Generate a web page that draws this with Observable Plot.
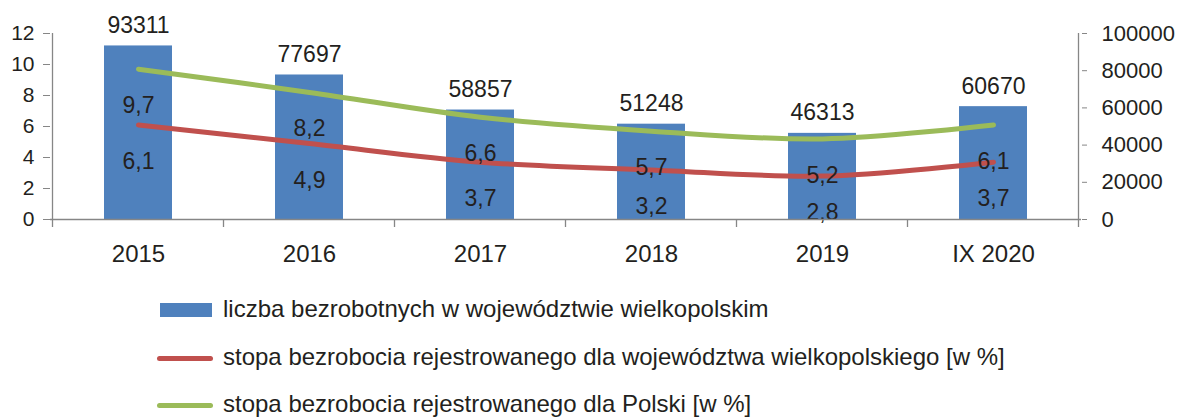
<!DOCTYPE html>
<html>
<head>
<meta charset="utf-8">
<script src="https://cdn.jsdelivr.net/npm/d3@7"></script>
<script src="https://cdn.jsdelivr.net/npm/@observablehq/plot@0.6"></script>
<style>
  html, body { margin: 0; padding: 0; background: #fff; }
  body { width: 1182px; height: 417px; position: relative; overflow: hidden; font-family: "Liberation Sans", Arial, sans-serif; color: #231f20; }
  #chart { position: absolute; left: 0; top: 0; }
  .legend { position: absolute; left: 157px; top: 0; font-size: 24px; line-height: 24px; }
  .item { position: absolute; left: 0; white-space: nowrap; height: 24px; }
  .sw { position: absolute; }
  .lbl { position: absolute; left: 66px; top: 0; }
</style>
</head>
<body>
<div id="chart"></div>
<div class="legend" id="legend"></div>
<script>
const years = ["2015", "2016", "2017", "2018", "2019", "IX 2020"];
const unemployedCount = [93311, 77697, 58857, 51248, 46313, 60670];
const rateWielkopolska = [6.1, 4.9, 3.7, 3.2, 2.8, 3.7];
const ratePoland = [9.7, 8.2, 6.6, 5.7, 5.2, 6.1];
const leftTicks = [0, 2, 4, 6, 8, 10, 12];
const rightTicks = [0, 20000, 40000, 60000, 80000, 100000];
const seriesNames = [
  "liczba bezrobotnych w województwie wielkopolskim",
  "stopa bezrobocia rejestrowanego dla województwa wielkopolskiego [w %]",
  "stopa bezrobocia rejestrowanego dla Polski [w %]"
];
const colors = ["#4f81bd", "#c0504d", "#9bbb59"];

const leftMax = 12, rightMax = 100000;
const toLeft = v => v * leftMax / rightMax;

const bars = years.map((y, i) => ({year: y, count: unemployedCount[i]}));
const red = years.map((y, i) => ({year: y, v: rateWielkopolska[i]}));
const green = years.map((y, i) => ({year: y, v: ratePoland[i]}));
const fmt = v => String(v).replace(".", ",");
const textColor = "#231f20";
const axisColor = "#868686";

const plot = Plot.plot({
  width: 1182,
  height: 280,
  marginLeft: 50,
  marginRight: 101,
  marginTop: 33,
  marginBottom: 61,
  style: {fontFamily: "Liberation Sans, Arial, sans-serif", fontSize: "22px", color: textColor, background: "#fff", overflow: "visible"},
  x: {domain: years, paddingInner: 0.6, paddingOuter: 0.3, axis: null},
  y: {domain: [0, leftMax], axis: null},
  marks: [
    Plot.barY(bars, {x: "year", y: d => toLeft(d.count), fill: colors[0]}),
    Plot.line(green, {x: "year", y: "v", stroke: colors[2], strokeWidth: 5, curve: "catmull-rom", strokeLinecap: "round"}),
    Plot.line(red, {x: "year", y: "v", stroke: colors[1], strokeWidth: 5, curve: "catmull-rom", strokeLinecap: "round"}),
    Plot.text(bars, {x: "year", y: d => toLeft(d.count), text: d => String(d.count), lineAnchor: "bottom", dy: -13, fill: textColor, fontSize: 23}),
    Plot.text(green, {x: "year", y: "v", text: d => fmt(d.v), lineAnchor: "bottom", dy: 44, fill: textColor, fontSize: 23}),
    Plot.text(red, {x: "year", y: "v", text: d => fmt(d.v), lineAnchor: "bottom", dy: 44, fill: textColor, fontSize: 23}),
    Plot.ruleY([0], {stroke: axisColor, strokeWidth: 1.3}),
    Plot.axisY(leftTicks, {anchor: "left", label: null, tickSize: 7, tickPadding: 9, stroke: axisColor, fill: textColor, fontSize: 21, tickFormat: d => String(d)}),
    Plot.axisY(rightTicks.map(toLeft), {anchor: "right", label: null, tickSize: 5, tickPadding: 15, stroke: axisColor, fill: textColor, fontSize: 22, tickFormat: d => String(Math.round(d * rightMax / leftMax))}),
    Plot.axisX({anchor: "bottom", label: null, tickSize: 0, tickPadding: 25, fill: textColor, fontSize: 24})
  ]
});

// axis lines and category boundary ticks, positioned from the plot's own scales
const xs = plot.scale("x"), ys = plot.scale("y");
const step = xs.step;
const x0 = xs.apply(years[0]) + xs.bandwidth / 2 - step / 2;
const yTop = ys.apply(leftMax), yBase = ys.apply(0);
const svg = d3.select(plot);
const g = svg.append("g").attr("stroke", axisColor).attr("stroke-width", 1.3);
const xEnd = x0 + step * years.length;
g.append("line").attr("x1", x0).attr("x2", x0).attr("y1", yTop).attr("y2", yBase + 8);
g.append("line").attr("x1", xEnd).attr("x2", xEnd).attr("y1", yTop).attr("y2", yBase + 8);
for (let i = 1; i < years.length; i++) {
  const bx = x0 + step * i;
  g.append("line").attr("x1", bx).attr("x2", bx).attr("y1", yBase).attr("y2", yBase + 8);
}

document.getElementById("chart").appendChild(plot);

// legend
const legend = document.getElementById("legend");
const tops = [297, 345, 392];
seriesNames.forEach((name, i) => {
  const item = document.createElement("div");
  item.className = "item";
  item.style.top = tops[i] + "px";
  const sw = document.createElement("span");
  sw.className = "sw";
  if (i === 0) {
    sw.style.left = "3px"; sw.style.width = "52px"; sw.style.top = "6px"; sw.style.height = "14px";
    sw.style.background = colors[0];
  } else {
    sw.style.left = "0px"; sw.style.width = "56px"; sw.style.top = "11px"; sw.style.height = "5px";
    sw.style.background = colors[i]; sw.style.borderRadius = "3px";
  }
  item.appendChild(sw);
  const t = document.createElement("span");
  t.className = "lbl";
  t.textContent = name;
  item.appendChild(t);
  legend.appendChild(item);
});
</script>
</body>
</html>
